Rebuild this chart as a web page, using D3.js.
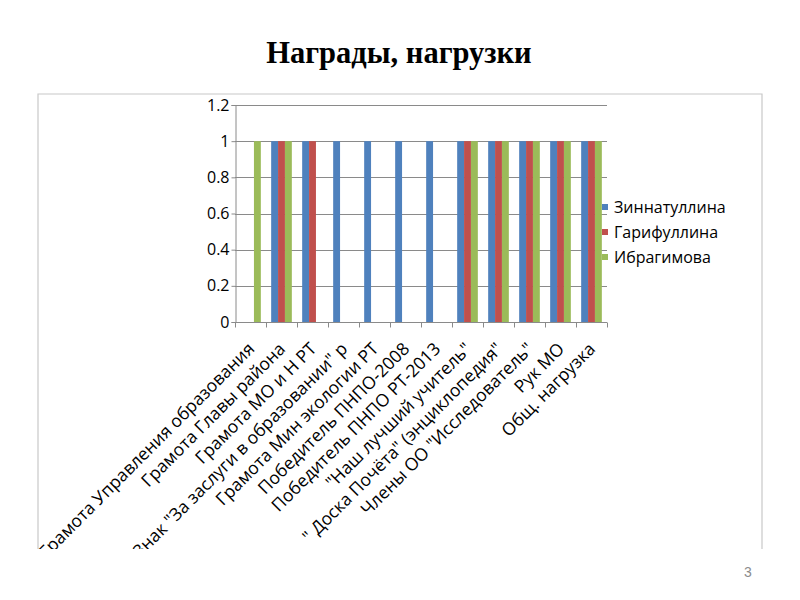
<!DOCTYPE html>
<html>
<head>
<meta charset="utf-8">
<script src="https://cdn.jsdelivr.net/npm/d3@7"></script>
<style>
  body { margin: 0; background: #fff; }
  svg { display: block; }
</style>
</head>
<body>
<div id="chart"></div>
<script>
// --- Data ---
const categories = [
  "Грамота Управления образования",
  "Грамота Главы района",
  "Грамота МО и Н РТ",
  "Знак \"За заслуги в образовании\" р",
  "Грамота Мин экологии РТ",
  "Победитель ПНПО-2008",
  "Победитель ПНПО РТ-2013",
  "\"Наш лучший учитель\"",
  "\" Доска Почёта\" (энциклопедия\"",
  "Члены ОО \"Исследователь\"",
  "Рук МО",
  "Общ. нагрузка"
];
const seriesNames = ["Зиннатуллина", "Гарифуллина", "Ибрагимова"];
const zinnatullina = [0, 1, 1, 1, 1, 1, 1, 1, 1, 1, 1, 1];
const garifullina  = [0, 1, 1, 0, 0, 0, 0, 1, 1, 1, 1, 1];
const ibragimova   = [1, 1, 0, 0, 0, 0, 0, 1, 1, 1, 1, 1];
const yTicks = [0, 0.2, 0.4, 0.6, 0.8, 1, 1.2];

const seriesValues = [zinnatullina, garifullina, ibragimova];
const colors = ["#4F81BD", "#C0504D", "#9BBB59"];

const W = 800, H = 600;
const box = { left: 38, top: 94, right: 762, bottom: 549 };
const plot = { left: 235, right: 607, top: 105, bottom: 322 };
const font = "'Open Sans', sans-serif";

const svg = d3.select("#chart")
  .append("svg")
  .attr("width", W)
  .attr("height", H);

// --- Title ---
svg.append("text")
  .attr("x", 399)
  .attr("y", 63)
  .attr("text-anchor", "middle")
  .style("font-family", "'Liberation Serif', serif")
  .style("font-weight", "bold")
  .style("font-size", "30.5px")
  .text("Награды, нагрузки");

// --- Chart box (bottom edge is cut off in the slide) ---
svg.append("defs").append("clipPath")
  .attr("id", "boxclip")
  .append("rect")
  .attr("x", box.left)
  .attr("y", box.top)
  .attr("width", box.right - box.left)
  .attr("height", box.bottom - box.top);

svg.append("path")
  .attr("d", `M${box.left},${box.bottom}V${box.top}H${box.right}V${box.bottom}`)
  .attr("fill", "none")
  .attr("stroke", "#c8c8c8")
  .attr("stroke-width", 1.2);

const g = svg.append("g").attr("clip-path", "url(#boxclip)");

// --- Scales ---
const x = d3.scaleBand()
  .domain(categories)
  .range([plot.left, plot.right])
  .padding(0);

const xInner = d3.scaleBand()
  .domain(seriesNames)
  .range([0, x.bandwidth()])
  .paddingInner(0)
  .paddingOuter(0.75);

const y = d3.scaleLinear()
  .domain([0, 1.2])
  .range([plot.bottom, plot.top]);

// --- Gridlines ---
g.append("g")
  .selectAll("line")
  .data(yTicks)
  .enter()
  .append("line")
  .attr("x1", plot.left)
  .attr("x2", plot.right)
  .attr("y1", d => Math.round(y(d)) + 0.5)
  .attr("y2", d => Math.round(y(d)) + 0.5)
  .attr("stroke", "#8a8a8a")
  .attr("stroke-width", 1);

// --- Bars ---
const flat = [];
categories.forEach((c, i) => {
  seriesNames.forEach((s, j) => flat.push({ cat: c, series: s, j, value: seriesValues[j][i] }));
});

g.append("g")
  .selectAll("rect")
  .data(flat.filter(d => d.value > 0))
  .enter()
  .append("rect")
  .attr("x", d => x(d.cat) + xInner(d.series))
  .attr("y", d => y(d.value))
  .attr("width", xInner.bandwidth())
  .attr("height", d => y(0) - y(d.value))
  .attr("fill", d => colors[d.j]);

// --- Y axis ---
const yAxis = g.append("g")
  .attr("transform", `translate(${plot.left + 0.5},0)`)
  .call(d3.axisLeft(y).tickValues(yTicks).tickSize(4).tickPadding(2).tickFormat(d3.format("")));
yAxis.select(".domain").attr("stroke", "#8a8a8a");
yAxis.selectAll(".tick line").attr("stroke", "#8a8a8a");
yAxis.selectAll(".tick text")
  .style("font-family", font)
  .style("font-size", "16px")
  .attr("fill", "#000");

// --- X axis (ticks at category boundaries) ---
const xAxis = g.append("g")
  .attr("transform", `translate(0,${plot.bottom + 0.5})`);
xAxis.append("line")
  .attr("x1", plot.left)
  .attr("x2", plot.right)
  .attr("stroke", "#8a8a8a");
xAxis.selectAll(".xtick")
  .data(categories.concat(["end"]))
  .enter()
  .append("line")
  .attr("class", "xtick")
  .attr("x1", (d, i) => Math.round(plot.left + i * x.step()) + 0.5)
  .attr("x2", (d, i) => Math.round(plot.left + i * x.step()) + 0.5)
  .attr("y1", 0)
  .attr("y2", 5)
  .attr("stroke", "#8a8a8a");

// Rotated category labels
g.append("g")
  .selectAll("text")
  .data(categories)
  .enter()
  .append("text")
  .attr("transform", d => `translate(${x(d) + x.bandwidth() / 2 + 5},${plot.bottom + 28}) rotate(-45)`)
  .attr("text-anchor", "end")
  .style("font-family", font)
  .style("font-size", "17.5px")
  .attr("fill", "#000")
  .text(d => d);

// --- Legend ---
const legend = g.append("g")
  .selectAll("g")
  .data(seriesNames)
  .enter()
  .append("g")
  .attr("transform", (d, i) => `translate(602,${207 + i * 25})`);

legend.append("rect")
  .attr("x", 0)
  .attr("y", -3)
  .attr("width", 6)
  .attr("height", 6)
  .attr("fill", (d, i) => colors[i]);

legend.append("text")
  .attr("x", 12)
  .attr("y", 0)
  .attr("dy", "0.35em")
  .style("font-family", font)
  .style("font-size", "16px")
  .attr("fill", "#000")
  .text(d => d);

// --- Slide number ---
svg.append("text")
  .attr("x", 748)
  .attr("y", 577)
  .attr("text-anchor", "middle")
  .style("font-family", "'Liberation Sans', sans-serif")
  .style("font-size", "14px")
  .attr("fill", "#8c8c8c")
  .text("3");
</script>
</body>
</html>
